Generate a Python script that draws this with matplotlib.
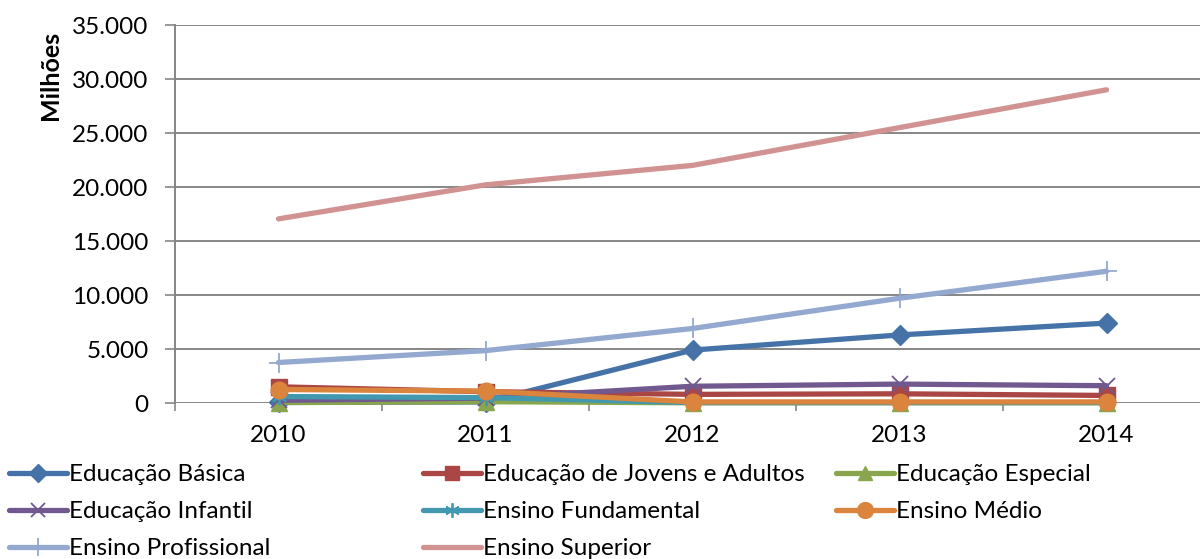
import matplotlib
matplotlib.use("Agg")
import matplotlib.pyplot as plt
from matplotlib.ticker import FuncFormatter, FixedLocator

plt.rcParams['font.family'] = ['Lato', 'DejaVu Sans']

years = ["2010", "2011", "2012", "2013", "2014"]
educacao_basica = [50, 100, 4900, 6300, 7400]
educacao_jovens_adultos = [1500, 1050, 800, 850, 700]
educacao_especial = [40, 120, 20, 20, 20]
educacao_infantil = [250, 450, 1550, 1750, 1600]
ensino_fundamental = [600, 500, 40, 40, 40]
ensino_medio = [1250, 1100, 100, 100, 100]
ensino_profissional = [3750, 4850, 6900, 9700, 12200]
ensino_superior = [17050, 20200, 22000, 25500, 29000]

series = [
    ("Educação Básica", educacao_basica, "#4572A7", "D", 10),
    ("Educação de Jovens e Adultos", educacao_jovens_adultos, "#AA4643", "s", 11),
    ("Educação Especial", educacao_especial, "#89A54E", "^", 11),
    ("Educação Infantil", educacao_infantil, "#71588F", "x", 11),
    ("Ensino Fundamental", ensino_fundamental, "#4198AF", (6, 2, 0), 11),
    ("Ensino Médio", ensino_medio, "#DB843D", "o", 12),
    ("Ensino Profissional", ensino_profissional, "#93A9CF", "+", 14),
    ("Ensino Superior", ensino_superior, "#D19392", None, 0),
]

FS = 17.5

fig = plt.figure(figsize=(12, 5.59), dpi=100)
ax = fig.add_axes([175/1200, 1-403/559, 1035/1200, 378/559])

x = list(range(len(years)))
handles = []
for name, vals, col, mk, ms in series:
    thin = mk in ("x", "+", (6, 2, 0))
    h, = ax.plot(x, vals, color=col, lw=3.8, marker=mk, markersize=ms,
                 markeredgewidth=1.3 if thin else 1,
                 markerfacecolor=col, markeredgecolor=col, label=name,
                 solid_capstyle='round', solid_joinstyle='round', clip_on=False)
    handles.append(h)

ax.set_xlim(-0.5, 4.5)
ax.set_ylim(0, 35000)
ax.set_yticks(range(0, 35001, 5000))
ax.yaxis.set_major_formatter(FuncFormatter(lambda v, p: f"{int(v):,}".replace(",", ".")))
ax.set_xticks(x)
ax.set_xticklabels(years)
ax.xaxis.set_minor_locator(FixedLocator([-0.5, 0.5, 1.5, 2.5, 3.5, 4.5]))
ax.tick_params(axis='x', which='major', length=0, pad=16, labelsize=FS, colors='black')
ax.tick_params(axis='x', which='minor', length=6, width=1.2, color='#868686', direction='out')
ax.tick_params(axis='y', which='major', length=7, width=1.2, color='#868686', pad=12, labelsize=FS)
ax.grid(axis='y', color='#868686', lw=1.4)
ax.set_axisbelow(True)
for s in ['top', 'right', 'bottom']:
    ax.spines[s].set_visible(False)
ax.spines['left'].set_color('#868686')
ax.spines['left'].set_linewidth(1.4)

fig.text(50/1200, 1-75/559, "Milhões", rotation=90, ha='center', va='center',
         fontsize=18, fontweight='bold')

cols = [[0, 3, 6], [1, 4, 7], [2, 5]]
xs = [9/1200, 423/1200, 836/1200]
for c, xp in zip(cols, xs):
    fig.legend([handles[i] for i in c], [series[i][0] for i in c],
               loc='upper left', bbox_to_anchor=(xp, 1-464/559), frameon=False,
               fontsize=FS, handlelength=2.4, handletextpad=0.05, labelspacing=0.66,
               borderaxespad=0, borderpad=0, markerscale=0.95)

fig.savefig("out.png", dpi=100)
